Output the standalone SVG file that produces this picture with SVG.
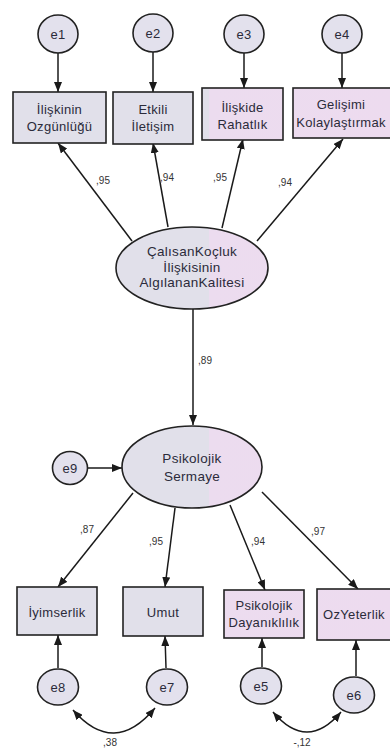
<svg xmlns="http://www.w3.org/2000/svg" width="390" height="751" viewBox="0 0 390 751">
<defs>
<linearGradient id="fillG" gradientUnits="userSpaceOnUse" x1="0" y1="0" x2="390" y2="0">
<stop offset="0" stop-color="#e1e0ea"/>
<stop offset="0.535" stop-color="#e1e0ea"/>
<stop offset="0.535" stop-color="#ecdcef"/>
<stop offset="1" stop-color="#eddbef"/>
</linearGradient>
<marker id="ah" viewBox="0 0 10 8" refX="10" refY="4" markerWidth="10" markerHeight="8" markerUnits="userSpaceOnUse" orient="auto-start-reverse">
<path d="M0,0 L10,4 L0,8 Z" fill="#1a1a1a"/>
</marker>
<style>
.n{fill:url(#fillG);stroke:#222;stroke-width:1.6}
.c{fill:#e3e1ed;stroke:#222;stroke-width:1.6}
.t{font-family:"Liberation Sans",Arial,sans-serif;font-size:13px;fill:#2b2b3a;text-anchor:middle;letter-spacing:0.3px}
.te{font-family:"Liberation Sans",Arial,sans-serif;font-size:13.5px;fill:#2b2b3a;text-anchor:middle;letter-spacing:0.3px}
.l{font-family:"Liberation Sans",Arial,sans-serif;font-size:10px;fill:#333;text-anchor:middle}
.e{fill:none;stroke:#1a1a1a;stroke-width:1.5;marker-end:url(#ah)}
.b{fill:none;stroke:#1a1a1a;stroke-width:1.5;marker-end:url(#ah);marker-start:url(#ah)}
</style>
</defs>
<rect width="390" height="751" fill="#ffffff"/>
<g id="connectors">
<line class="e" x1="58" y1="52" x2="58" y2="92"/>
<line class="e" x1="153" y1="52" x2="153" y2="92"/>
<line class="e" x1="244" y1="52" x2="244" y2="88"/>
<line class="e" x1="342" y1="52" x2="342" y2="88"/>
<line class="e" x1="132" y1="241" x2="58" y2="143"/>
<line class="e" x1="168" y1="227" x2="153" y2="143"/>
<line class="e" x1="222" y1="228" x2="243" y2="139"/>
<line class="e" x1="257" y1="241" x2="343" y2="139"/>
<line class="e" x1="193" y1="309" x2="193" y2="425"/>
<line class="e" x1="87" y1="468" x2="122" y2="468"/>
<line class="e" x1="133" y1="493" x2="58" y2="587"/>
<line class="e" x1="175" y1="508" x2="165" y2="587"/>
<line class="e" x1="230" y1="505" x2="265" y2="590"/>
<line class="e" x1="262" y1="492" x2="358" y2="589"/>
<line class="e" x1="58" y1="668" x2="58" y2="635"/>
<line class="e" x1="166" y1="668" x2="165" y2="636"/>
<line class="e" x1="262" y1="667" x2="262" y2="638"/>
<line class="e" x1="356" y1="676" x2="356" y2="640"/>
<path class="b" d="M73,710 Q114,757 155,708"/>
<path class="b" d="M273,712 Q307,752 341,712"/>
<text class="l" x="103" y="184">,95</text>
<text class="l" x="167" y="181">,94</text>
<text class="l" x="220" y="181">,95</text>
<text class="l" x="285" y="186">,94</text>
<text class="l" x="205" y="364">,89</text>
<text class="l" x="87" y="533">,87</text>
<text class="l" x="156" y="545">,95</text>
<text class="l" x="258" y="545">,94</text>
<text class="l" x="318" y="535">,97</text>
<text class="l" x="110" y="746">,38</text>
<text class="l" x="302" y="746">-,12</text>
</g>
<g id="e1"><ellipse class="c" cx="58" cy="34" rx="20" ry="19"/><text class="t" x="58" y="38.5">e1</text></g>
<g id="e2"><ellipse class="c" cx="153" cy="33" rx="20" ry="19"/><text class="t" x="153" y="37.5">e2</text></g>
<g id="e3"><ellipse class="c" cx="244" cy="34" rx="20" ry="19"/><text class="t" x="244" y="38.5">e3</text></g>
<g id="e4"><ellipse class="c" cx="342" cy="34" rx="20" ry="19"/><text class="t" x="342" y="38.5">e4</text></g>
<g id="box1"><rect class="n" x="13" y="92" width="93" height="51"/><text class="t" x="59.5" y="114">İlişkinin</text><text class="t" x="59.5" y="131">Ozgünlüğü</text></g>
<g id="box2"><rect class="n" x="113" y="92" width="80" height="52"/><text class="t" x="153" y="114">Etkili</text><text class="t" x="153" y="131">İletişim</text></g>
<g id="box3"><rect class="n" x="202" y="88" width="81" height="52"/><text class="t" x="242.5" y="112">İlişkide</text><text class="t" x="242.5" y="129">Rahatlık</text></g>
<g id="box4"><rect class="n" x="293" y="88" width="99" height="50"/><text class="t" x="341" y="109">Gelişimi</text><text class="t" x="341" y="127">Kolaylaştırmak</text></g>
<g id="f1"><ellipse class="n" cx="192" cy="268" rx="76" ry="41"/><text class="te" x="192" y="256">ÇalısanKoçluk</text><text class="te" x="192" y="271.5">İlişkisinin</text><text class="te" x="192" y="287">AlgılananKalitesi</text></g>
<g id="f2"><ellipse class="n" cx="192" cy="467" rx="70" ry="41"/><text class="te" x="192" y="463">Psikolojik</text><text class="te" x="192" y="481">Sermaye</text></g>
<g id="e9"><ellipse class="c" cx="70" cy="468" rx="17.5" ry="16.5"/><text class="t" x="70" y="472.5">e9</text></g>
<g id="box5"><rect class="n" x="17" y="587" width="80" height="48"/><text class="t" x="57" y="617">İyimserlik</text></g>
<g id="box6"><rect class="n" x="123" y="587" width="80" height="49"/><text class="t" x="163" y="617">Umut</text></g>
<g id="box7"><rect class="n" x="224" y="590" width="80" height="48"/><text class="t" x="264" y="610">Psikolojik</text><text class="t" x="264" y="627">Dayanıklılık</text></g>
<g id="box8"><rect class="n" x="317" y="589" width="76" height="51"/><text class="t" x="354" y="619">OzYeterlik</text></g>
<g id="e8"><ellipse class="c" cx="58" cy="687" rx="20.5" ry="18"/><text class="t" x="58" y="691.5">e8</text></g>
<g id="e7"><ellipse class="c" cx="167" cy="687" rx="20.5" ry="18"/><text class="t" x="167" y="691.5">e7</text></g>
<g id="e5"><ellipse class="c" cx="261" cy="686" rx="20.5" ry="18"/><text class="t" x="261" y="690.5">e5</text></g>
<g id="e6"><ellipse class="c" cx="354" cy="695" rx="20.5" ry="18"/><text class="t" x="354" y="699.5">e6</text></g>
</svg>
